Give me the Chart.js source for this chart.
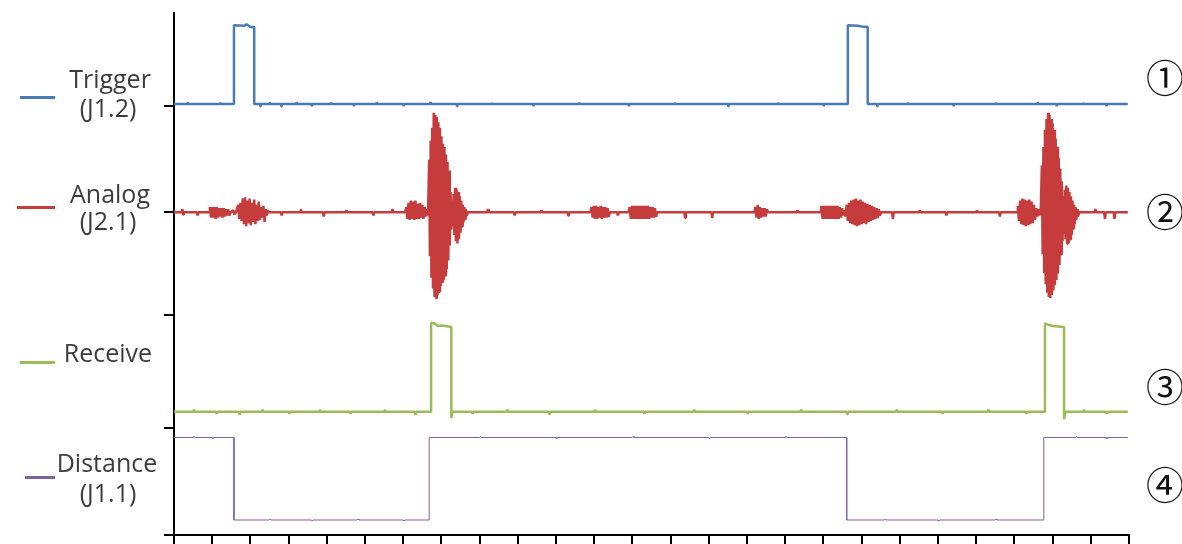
<!DOCTYPE html>
<html>
<head>
<meta charset="utf-8">
<script src="https://cdn.jsdelivr.net/npm/chart.js@4"></script>
<style>
  html, body { margin: 0; padding: 0; background: #fff; }
  #wrap { position: relative; width: 1182px; height: 544px; overflow: hidden; }
  #chart { position: absolute; left: 0; top: 0; }
  .lbl { position: absolute; width: 120px; text-align: center; white-space: nowrap;
         font-family: "Open Sans", sans-serif; font-size: 25px; line-height: 25px; color: #3c3c3c; }
  .num { position: absolute; width: 50px; text-align: center;
         font-family: "Noto Sans CJK JP", sans-serif; font-size: 38px; line-height: 38px; color: #111; }
  .sw { position: absolute; height: 3px; }
</style>
</head>
<body>
<div id="wrap">
  <canvas id="chart" width="1182" height="544"></canvas>
</div>
<script>
// channel names, pins and circled markers
const names = ["Trigger", "Analog", "Receive", "Distance"];
const pins = ["(J1.2)", "(J2.1)", "", "(J1.1)"];
const marks = ["①", "②", "③", "④"];
const colors = ["#4a7bb5", "#c63b3b", "#9bbb59", "#7d62a3"];

// y tick values (uneven spacing as in the scope capture)
const yTicks = [0, 1, 2.05, 3.01, 4.0];

// Trigger (J1.2) [time div, level]
const trigger = [
  [0, 4.02], [0.35, 4.02], [0.36, 4.04], [0.37, 4.02], [1.2, 4.02], [1.21, 4.035], [1.22, 4.02],
  [1.57, 4.02], [1.57, 4.755], [1.85, 4.75], [1.9, 4.765], [2.0, 4.74], [2.1, 4.74], [2.1, 4.02],
  [2.25, 4.02], [2.26, 4.0], [2.27, 4.02], [2.5, 4.02], [2.51, 4.04], [2.52, 4.02], [2.8, 4.02],
  [2.81, 4.0], [2.82, 4.02], [3.2, 4.02], [3.21, 4.04], [3.22, 4.02], [3.6, 4.02], [3.61, 4.0],
  [3.62, 4.02], [4.1, 4.02], [4.11, 4.035], [4.12, 4.02], [4.7, 4.02], [4.71, 4.0], [4.72, 4.02],
  [5.3, 4.02], [5.31, 4.04], [5.32, 4.02], [6.0, 4.02], [6.01, 4.0], [6.02, 4.02], [6.7, 4.02],
  [6.71, 4.04], [6.72, 4.02], [7.4, 4.02], [7.41, 4.0], [7.42, 4.02], [8.3, 4.02], [8.31, 4.035],
  [8.32, 4.02], [9.4, 4.02], [9.41, 4.0], [9.42, 4.02], [10.6, 4.02], [10.61, 4.035], [10.62, 4.02],
  [11.9, 4.02], [11.91, 4.0], [11.92, 4.02], [13.1, 4.02], [13.11, 4.035], [13.12, 4.02],
  [14.5, 4.02], [14.51, 4.0], [14.52, 4.02], [15.8, 4.02], [15.81, 4.035], [15.82, 4.02],
  [17.0, 4.02], [17.01, 4.0], [17.02, 4.02], [17.64, 4.02], [17.64, 4.755], [17.9, 4.75],
  [18.0, 4.745], [18.16, 4.74], [18.16, 4.02], [18.4, 4.02], [18.41, 4.0], [18.42, 4.02],
  [19.2, 4.02], [19.21, 4.035], [19.22, 4.02], [20.4, 4.02], [20.41, 4.0], [20.42, 4.02],
  [21.5, 4.02], [21.51, 4.035], [21.52, 4.02], [22.6, 4.02], [22.61, 4.04], [22.62, 4.02],
  [23.1, 4.02], [23.11, 4.0], [23.12, 4.02], [23.8, 4.02], [23.81, 4.035], [23.82, 4.02],
  [24.4, 4.02], [24.41, 4.0], [24.42, 4.02], [24.97, 4.02]
];

// Analog (J2.1)
const analog = [
  [0, 3.01], [0.2, 3.01], [0.22, 3.04], [0.24, 2.99], [0.26, 3.01], [0.6, 3.01], [0.62, 2.98], [0.64, 3.01], [0.92, 3.01],
  [0.94, 3.06], [0.97, 2.96], [1.0, 3.06], [1.03, 2.96], [1.06, 3.06], [1.09, 2.95], [1.12, 3.06], [1.15, 2.96],
  [1.18, 3.05], [1.21, 2.97], [1.24, 3.05], [1.27, 2.96], [1.3, 3.05], [1.33, 2.97], [1.36, 3.04], [1.39, 2.98],
  [1.42, 3.04], [1.45, 2.98], [1.48, 3.01], [1.55, 3.03], [1.58, 2.99], [1.62, 3.01],
  [1.68, 3.08], [1.71, 2.95], [1.74, 3.1], [1.77, 2.93], [1.8, 3.14], [1.83, 2.9], [1.86, 3.15], [1.89, 2.88],
  [1.92, 3.12], [1.95, 2.91], [1.98, 3.14], [2.01, 2.89], [2.04, 3.1], [2.07, 2.92], [2.1, 3.13], [2.13, 2.9],
  [2.16, 3.08], [2.19, 2.93], [2.22, 3.11], [2.25, 2.94], [2.28, 3.06], [2.31, 2.96], [2.34, 3.07], [2.37, 2.92],
  [2.4, 3.04], [2.43, 2.98], [2.46, 3.03], [2.49, 3.01],
  [2.8, 3.01], [2.82, 2.98], [2.84, 3.01], [3.3, 3.01], [3.32, 3.04], [3.34, 3.01], [3.9, 3.01], [3.92, 2.97],
  [3.94, 3.01], [4.5, 3.01], [4.52, 3.03], [4.54, 3.01], [5.2, 3.01], [5.22, 2.98], [5.24, 3.01], [5.7, 3.01],
  [5.72, 3.04], [5.74, 3.01], [6.05, 3.01],
  [6.08, 3.06], [6.11, 2.95], [6.14, 3.1], [6.17, 2.94], [6.2, 3.12], [6.23, 2.95], [6.26, 3.11], [6.29, 2.94],
  [6.32, 3.12], [6.35, 2.95], [6.38, 3.09], [6.41, 2.95], [6.44, 3.1], [6.47, 2.96], [6.5, 3.08], [6.53, 2.95],
  [6.56, 3.06], [6.59, 2.97], [6.62, 3.04], [6.65, 2.98],
  [6.68, 3.5], [6.7, 2.6], [6.72, 3.68], [6.74, 2.4], [6.76, 3.8], [6.78, 2.3], [6.8, 3.94], [6.82, 2.22],
  [6.84, 3.92], [6.86, 2.21], [6.88, 3.9], [6.9, 2.24], [6.92, 3.85], [6.94, 2.27], [6.96, 3.8], [6.98, 2.32],
  [7.0, 3.72], [7.02, 2.36], [7.04, 3.65], [7.06, 2.38], [7.08, 3.62], [7.1, 2.42], [7.12, 3.55], [7.14, 2.48],
  [7.16, 3.48], [7.18, 2.56], [7.2, 3.4], [7.22, 2.7], [7.24, 3.2], [7.26, 2.85],
  [7.28, 3.12], [7.3, 2.88], [7.32, 3.18], [7.34, 2.8], [7.36, 3.24], [7.38, 2.74], [7.4, 3.22], [7.42, 2.72],
  [7.44, 3.2], [7.46, 2.76], [7.48, 3.16], [7.5, 2.82], [7.52, 3.12], [7.54, 2.88], [7.56, 3.08], [7.58, 2.92],
  [7.6, 3.06], [7.62, 2.95], [7.64, 3.04], [7.66, 2.98], [7.7, 3.01],
  [8.2, 3.01], [8.22, 3.04], [8.24, 3.01], [8.9, 3.01], [8.92, 2.98], [8.94, 3.01], [9.6, 3.01], [9.62, 3.03],
  [9.64, 3.01], [10.3, 3.01], [10.32, 2.98], [10.34, 3.01], [10.9, 3.01],
  [10.93, 3.06], [10.96, 2.96], [10.99, 3.07], [11.02, 2.95], [11.05, 3.07], [11.08, 2.95], [11.11, 3.06],
  [11.14, 2.96], [11.17, 3.07], [11.2, 2.95], [11.23, 3.06], [11.26, 2.96], [11.29, 3.06], [11.32, 2.96],
  [11.35, 3.05], [11.38, 2.97], [11.41, 3.01], [11.6, 3.01], [11.62, 2.98], [11.64, 3.01], [11.9, 3.01],
  [11.93, 3.06], [11.96, 2.95], [11.99, 3.07], [12.02, 2.95], [12.05, 3.07], [12.08, 2.95], [12.11, 3.07],
  [12.14, 2.95], [12.17, 3.07], [12.2, 2.95], [12.23, 3.07], [12.26, 2.95], [12.29, 3.07], [12.32, 2.95],
  [12.35, 3.07], [12.38, 2.95], [12.41, 3.07], [12.44, 2.95], [12.47, 3.06], [12.5, 2.96], [12.53, 3.06],
  [12.56, 2.96], [12.59, 3.05], [12.62, 2.97], [12.65, 3.01],
  [13.36, 3.01], [13.38, 2.96], [13.4, 3.01], [14.07, 3.01], [14.09, 2.96], [14.11, 3.01], [15.2, 3.01],
  [15.22, 3.06], [15.25, 2.96], [15.28, 3.08], [15.31, 2.95], [15.34, 3.06], [15.37, 2.96], [15.4, 3.05],
  [15.43, 2.97], [15.46, 3.05], [15.49, 2.97], [15.52, 3.04], [15.55, 3.01], [16.3, 3.01], [16.32, 3.03],
  [16.34, 3.01], [16.93, 3.01],
  [16.95, 3.07], [16.98, 2.95], [17.01, 3.07], [17.04, 2.95], [17.07, 3.07], [17.1, 2.95], [17.13, 3.07],
  [17.16, 2.95], [17.19, 3.07], [17.22, 2.95], [17.25, 3.07], [17.28, 2.95], [17.31, 3.07], [17.34, 2.95],
  [17.37, 3.07], [17.4, 2.95], [17.43, 3.06], [17.46, 2.96], [17.49, 3.05], [17.52, 2.98],
  [17.55, 3.03], [17.58, 2.97], [17.61, 3.08], [17.64, 2.93], [17.67, 3.1], [17.7, 2.91], [17.73, 3.12],
  [17.76, 2.9], [17.79, 3.13], [17.82, 2.89], [17.85, 3.14], [17.88, 2.88], [17.91, 3.12], [17.94, 2.89],
  [17.97, 3.13], [18.0, 2.9], [18.03, 3.11], [18.06, 2.91], [18.09, 3.1], [18.12, 2.9], [18.15, 3.09],
  [18.18, 2.92], [18.21, 3.08], [18.24, 2.93], [18.27, 3.07], [18.3, 2.94], [18.33, 3.06], [18.36, 2.95],
  [18.39, 3.05], [18.42, 2.96], [18.45, 3.04], [18.48, 2.98], [18.51, 3.01],
  [18.8, 3.01], [18.82, 2.95], [18.84, 3.01], [19.5, 3.01], [19.52, 3.03], [19.54, 3.01], [20.2, 3.01],
  [20.22, 2.98], [20.24, 3.01], [21.0, 3.01], [21.02, 3.03], [21.04, 3.01], [21.6, 3.01], [21.62, 2.97],
  [21.64, 3.01], [22.07, 3.01],
  [22.09, 3.07], [22.12, 2.93], [22.15, 3.12], [22.18, 2.9], [22.21, 3.14], [22.24, 2.89], [22.27, 3.13],
  [22.3, 2.88], [22.33, 3.12], [22.36, 2.89], [22.39, 3.13], [22.42, 2.9], [22.45, 3.11], [22.48, 2.91],
  [22.51, 3.08], [22.54, 2.94], [22.57, 3.05], [22.6, 2.97], [22.63, 3.04], [22.66, 2.98], [22.69, 3.03],
  [22.72, 3.45], [22.74, 2.62], [22.76, 3.62], [22.78, 2.45], [22.8, 3.78], [22.82, 2.34], [22.84, 3.88],
  [22.86, 2.26], [22.88, 3.94], [22.9, 2.22], [22.92, 3.92], [22.94, 2.21], [22.96, 3.88], [22.98, 2.24],
  [23.0, 3.84], [23.02, 2.28], [23.04, 3.78], [23.06, 2.33], [23.08, 3.7], [23.1, 2.38], [23.12, 3.62],
  [23.14, 2.44], [23.16, 3.52], [23.18, 2.52], [23.2, 3.42], [23.22, 2.62], [23.24, 3.3], [23.26, 2.74],
  [23.28, 3.16], [23.3, 2.82], [23.32, 3.22], [23.34, 2.76], [23.36, 3.26], [23.38, 2.72], [23.4, 3.24],
  [23.42, 2.72], [23.44, 3.2], [23.46, 2.76], [23.48, 3.16], [23.5, 2.8], [23.52, 3.12], [23.54, 2.86],
  [23.56, 3.08], [23.58, 2.9], [23.6, 3.06], [23.62, 2.94], [23.64, 3.04], [23.66, 2.97], [23.7, 3.01],
  [24.1, 3.01], [24.12, 3.04], [24.14, 3.01], [24.35, 3.01], [24.37, 2.95], [24.39, 3.01], [24.6, 3.01],
  [24.62, 2.95], [24.64, 3.01], [24.97, 3.01]
];

// Receive
const receive = [
  [0, 1.15], [0.5, 1.15], [0.52, 1.17], [0.54, 1.15], [1.1, 1.15], [1.12, 1.13], [1.14, 1.15], [1.7, 1.15],
  [1.72, 1.12], [1.74, 1.15], [2.3, 1.15], [2.32, 1.17], [2.34, 1.15], [3.0, 1.15], [3.02, 1.13], [3.04, 1.15],
  [3.8, 1.15], [3.82, 1.17], [3.84, 1.15], [4.6, 1.15], [4.62, 1.13], [4.64, 1.15], [5.5, 1.15], [5.52, 1.17],
  [5.54, 1.15], [6.3, 1.15], [6.32, 1.12], [6.34, 1.15], [6.73, 1.15], [6.73, 1.98], [6.85, 1.97], [6.9, 1.95],
  [7.0, 1.955], [7.1, 1.95], [7.26, 1.94], [7.26, 1.09], [7.28, 1.15], [7.8, 1.15], [7.82, 1.13], [7.84, 1.15],
  [8.7, 1.15], [8.72, 1.17], [8.74, 1.15], [9.8, 1.15], [9.82, 1.13], [9.84, 1.15], [11.0, 1.15], [11.02, 1.17],
  [11.04, 1.15], [12.3, 1.15], [12.32, 1.13], [12.34, 1.15], [13.6, 1.15], [13.62, 1.17], [13.64, 1.15],
  [15.0, 1.15], [15.02, 1.13], [15.04, 1.15], [16.4, 1.15], [16.42, 1.17], [16.44, 1.15], [17.6, 1.15],
  [17.62, 1.13], [17.64, 1.15], [18.9, 1.15], [18.92, 1.17], [18.94, 1.15], [20.1, 1.15], [20.12, 1.13],
  [20.14, 1.15], [21.3, 1.15], [21.32, 1.17], [21.34, 1.15], [22.3, 1.15], [22.32, 1.13], [22.34, 1.15],
  [22.8, 1.15], [22.8, 1.975], [22.9, 1.96], [23.0, 1.95], [23.3, 1.94], [23.3, 1.08], [23.34, 1.15],
  [23.8, 1.15], [23.82, 1.17], [23.84, 1.15], [24.4, 1.15], [24.42, 1.13], [24.44, 1.15], [24.97, 1.15]
];

// Distance (J1.1)
const distance = [
  [0, 0.91], [0.5, 0.91], [0.52, 0.92], [0.54, 0.91], [1.0, 0.91], [1.02, 0.9], [1.04, 0.91], [1.57, 0.91],
  [1.57, 0.14], [2.5, 0.14], [2.52, 0.15], [2.54, 0.14], [3.6, 0.14], [3.62, 0.13], [3.64, 0.14], [4.8, 0.14],
  [4.82, 0.15], [4.84, 0.14], [6.0, 0.14], [6.02, 0.13], [6.04, 0.14], [6.68, 0.14], [6.68, 0.91],
  [8.0, 0.91], [8.02, 0.92], [8.04, 0.91], [10.0, 0.91], [10.02, 0.9], [10.04, 0.91], [12.0, 0.91],
  [12.02, 0.92], [12.04, 0.91], [14.0, 0.91], [14.02, 0.9], [14.04, 0.91], [16.0, 0.91], [16.02, 0.92],
  [16.04, 0.91], [17.61, 0.91], [17.61, 0.14], [18.6, 0.14], [18.62, 0.15], [18.64, 0.14], [20.0, 0.14],
  [20.02, 0.13], [20.04, 0.14], [21.5, 0.14], [21.52, 0.15], [21.54, 0.14], [22.77, 0.14], [22.77, 0.91],
  [23.6, 0.91], [23.62, 0.92], [23.64, 0.91], [24.4, 0.91], [24.42, 0.9], [24.44, 0.91], [24.97, 0.91]
];

const series = [trigger, analog, receive, distance];
const widths = [2.5, 2.5, 2.5, 1];

const toXY = (arr) => arr.map(([x, y]) => ({ x: x, y: y }));

const ctx = document.getElementById("chart").getContext("2d");
const scopeChart = new Chart(ctx, {
  type: "line",
  data: {
    datasets: series.map((s, i) => ({
      label: names[i],
      data: toXY(s),
      borderColor: colors[i],
      borderWidth: widths[i],
      borderJoinStyle: "bevel",
      pointRadius: 0,
      tension: 0,
      fill: false,
    })),
  },
  options: {
    responsive: false,
    animation: false,
    devicePixelRatio: 1,
    layout: { padding: { left: 164, right: 53, top: 13, bottom: 0 } },
    plugins: { legend: { display: false }, tooltip: { enabled: false } },
    scales: {
      x: {
        type: "linear",
        min: 0,
        max: 25,
        ticks: { stepSize: 1, display: false },
        grid: { drawOnChartArea: false, drawTicks: true, tickLength: 9, color: "#000", lineWidth: 2 },
        border: { color: "#000", width: 2 },
      },
      y: {
        type: "linear",
        min: 0,
        max: 4.87,
        afterBuildTicks: (scale) => {
          scale.ticks = yTicks.map((v) => ({ value: v }));
        },
        ticks: { display: false },
        grid: { drawOnChartArea: false, drawTicks: true, tickLength: 10, color: "#000", lineWidth: 2 },
        border: { color: "#000", width: 2 },
      },
    },
  },
});

// left-hand labels and right-hand markers
const wrap = document.getElementById("wrap");
function addDiv(cls, text, left, top, extra) {
  const d = document.createElement("div");
  d.className = cls;
  d.textContent = text;
  d.style.left = left + "px";
  d.style.top = top + "px";
  if (extra) Object.assign(d.style, extra);
  wrap.appendChild(d);
}
// [name center x, name baseline, pin center x, pin baseline, swatch x1, swatch x2, swatch y]
const labelPos = [
  [110, 88, 108, 117, 20, 55, 97],
  [110, 203, 108, 230, 17, 55, 207],
  [108, 362, 0, 0, 20, 55, 362],
  [107, 472, 108, 502, 25, 55, 477],
];
const markPos = [78, 212, 387, 485];
names.forEach((n, i) => {
  const p = labelPos[i];
  addDiv("lbl", n, p[0] - 60, p[1] - 22);
  if (pins[i]) addDiv("lbl", pins[i], p[2] - 60, p[3] - 22);
  addDiv("sw", "", p[4], p[6] - 1, { width: (p[5] - p[4]) + "px", background: colors[i] });
  addDiv("num", marks[i], 1165 - 25, markPos[i] - 21);
});
</script>
</body>
</html>
